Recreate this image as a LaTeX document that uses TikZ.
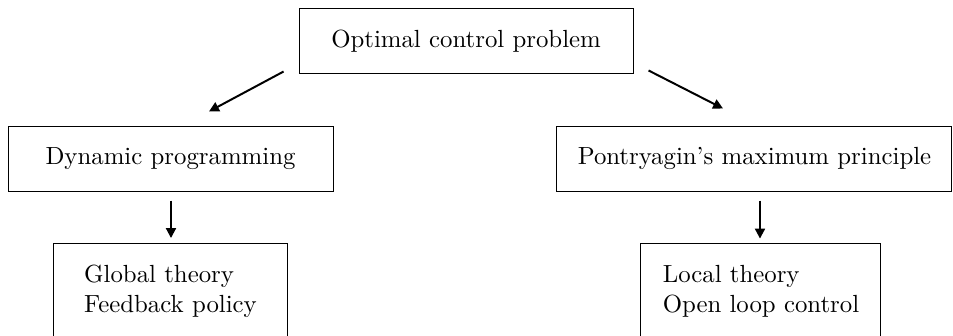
\documentclass[tikz,border=0pt]{standalone}
\usepackage{tikz}
\usetikzlibrary{arrows.meta, positioning, calc}

\tikzset{
    box/.style={draw, rectangle, inner sep=0pt, minimum height=0.921cm},
    arr/.style={-{Triangle[length=4pt, width=4pt]}, thick}
}

\begin{document}
\begin{tikzpicture}
\useasboundingbox (0,0) rectangle (13.504,4.747);
% Top
\node[box, minimum width=4.733cm] (ocp) at (6.604,4.159) {Optimal control problem};

% Two approaches
\node[box, minimum width=4.605cm] (dp) at (2.416,2.501) {Dynamic programming};
\node[box, minimum width=5.597cm] (pmp) at (10.691,2.501) {Pontryagin's maximum principle};

% Properties
\node[box, anchor=north, align=left, minimum width=3.302cm, minimum height=1.71cm] (glob) at (2.416,1.304)
    {Global theory\\Feedback policy\\~};
\node[box, anchor=north, align=left, minimum width=3.401cm, minimum height=1.71cm] (loc) at (10.783,1.304)
    {Local theory\\Open loop control\\~};

% Arrows
\coordinate (ocpL) at ($(ocp.south west)+(-0.212,0.042)$);
\coordinate (dpT) at ($(dp.north)+(0.546,0.199)$);
\coordinate (ocpR) at ($(ocp.south east)+(0.212,0.057)$);
\coordinate (pmpT) at ($(pmp.north)+(-0.446,0.241)$);
\draw[arr] (ocpL) -- (dpT);
\draw[arr] (ocpR) -- (pmpT);

\draw[arr] ($(dp.south)+(0.007,-0.128)$) coordinate (dpB) -- ($(glob.north)+(0.007,0.07)$) coordinate (globT);
\draw[arr] ($(pmp.south)+(0.078,-0.128)$) coordinate (pmpB) -- ($(pmp.south)+(0.078,-0.667)$) coordinate (locT);
\end{tikzpicture}
\end{document}
